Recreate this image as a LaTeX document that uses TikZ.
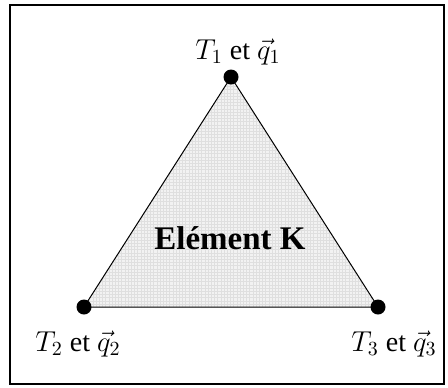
\documentclass[tikz,border=0pt]{standalone}
\usepackage{fontspec}
\setmainfont{Liberation Serif}
\usetikzlibrary{positioning}
\begin{document}
\begin{tikzpicture}[x=0.5pt, y=-0.5pt]
    \tikzset{
        vertexdot/.style={circle, fill=black, inner sep=0pt, minimum size=7.5pt},
        vertexlabel/.style={font=\fontsize{14}{16}\selectfont, inner sep=0pt}
    }
    \useasboundingbox (0,0) rectangle (448,387);
    % outer frame
    \draw[line width=1.1pt] (10,5) rectangle (444,384);
    
    % corners of the element
    \coordinate (v1) at (231,77);
    \coordinate (v2) at (84,307);
    \coordinate (v3) at (378,307);
    
    % shaded element with fine grid
    \fill[gray!10] (v1) -- (v2) -- (v3) -- cycle;
    \begin{scope}
        \clip (v1) -- (v2) -- (v3) -- cycle;
        \draw[gray!25, line width=0.15pt, step=1.6pt] (80,70) grid (385,310);
    \end{scope}
    \draw[line width=0.5pt] (v1) -- (v2) -- (v3) -- cycle;
    
    % nodes
    \node[vertexdot] (n1) at (v1) {};
    \node[vertexdot] (n2) at (v2) {};
    \node[vertexdot] (n3) at (v3) {};
    
    % labels
    \node[vertexlabel] (l1) at (238,52) {$T_1$ et $\vec{q}_1$};
    \node[vertexlabel] (l2) at (78,344) {$T_2$ et $\vec{q}_2$};
    \node[vertexlabel] (l3) at (394,344) {$T_3$ et $\vec{q}_3$};
    \node[font=\fontsize{16.5}{18}\selectfont\bfseries] (elem) at (230,238) {Elément K};
\end{tikzpicture}
\end{document}
